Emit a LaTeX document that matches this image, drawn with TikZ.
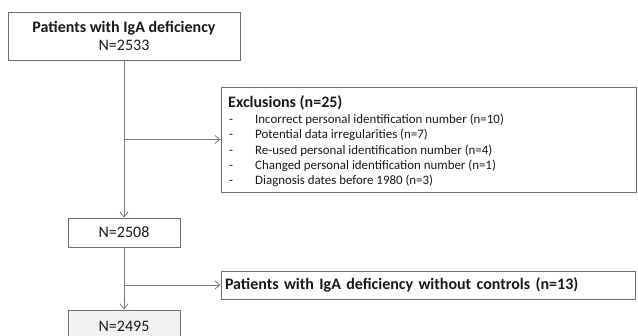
\documentclass[tikz,border=0pt]{standalone}
\usepackage{fontspec}
\setmainfont{Carlito}
\usetikzlibrary{arrows.meta}
\definecolor{boxline}{HTML}{6E6E6E}
\definecolor{conn}{HTML}{7A7A7A}
\definecolor{txt}{HTML}{1A1A1A}
\tikzset{
  fbox/.style={draw=boxline, line width=0.9pt, fill=white, inner sep=0pt, text=txt, align=center},
  conline/.style={draw=conn, line width=0.8pt},
  conarrow/.style={conline, -{Straight Barb[length=5pt,width=8pt,line width=0.8pt]}},
  bigtxt/.style={font=\fontsize{16}{18.5}\selectfont},
  listtxt/.style={font=\fontsize{12.9}{15}\selectfont, text=txt, inner sep=0pt, anchor=base west},
}
\begin{document}
\begin{tikzpicture}[x=1pt,y=-1pt]
\clip (0,0) rectangle (638,336);
\fill[white] (0,0) rectangle (638,336);
% boxes
\node[fbox, bigtxt, minimum width=232pt, minimum height=48pt] (top) at (124,36)
  {\textbf{Patients with IgA deficiency}\\N=2533};
\node[fbox, minimum width=415pt, minimum height=105pt] (excl) at (428.5,139.5) {};
\node[fbox, bigtxt, minimum width=112pt, minimum height=29pt] (n2508) at (124,232.5) {N=2508};
\node[fbox, bigtxt, minimum width=414pt, minimum height=28pt, text width=406pt, align=left] (ctrl) at (428,285)
  {\textbf{Patients with IgA deficiency without controls (n=13)}};
\node[fbox, bigtxt, fill=gray!10, minimum width=112pt, minimum height=32pt] (n2495) at (124,326) {N=2495};
% exclusion texts
\node[listtxt, font=\fontsize{16}{18}\selectfont\bfseries] (ex0) at (228,107.5) {Exclusions (n=25)};
\node[listtxt] (d1) at (229,123.5) {-};
\node[listtxt] (t1) at (255,123.5) {Incorrect personal identification number (n=10)};
\node[listtxt] (d2) at (229,138.8) {-};
\node[listtxt] (t2) at (255,138.8) {Potential data irregularities (n=7)};
\node[listtxt] (d3) at (229,154.1) {-};
\node[listtxt] (t3) at (255,154.1) {Re-used personal identification number (n=4)};
\node[listtxt] (d4) at (229,169.4) {-};
\node[listtxt] (t4) at (255,169.4) {Changed personal identification number (n=1)};
\node[listtxt] (d5) at (229,184.7) {-};
\node[listtxt] (t5) at (255,184.7) {Diagnosis dates before 1980 (n=3)};
% connectors
\coordinate (b1) at (top.south |- excl.west);
\coordinate (b2) at (n2508.south |- ctrl.west);
\draw[conarrow] (top.south) -- (n2508.north);
\draw[conarrow] (b1) -- (excl.west);
\draw[conarrow] (n2508.south) -- (n2495.north);
\draw[conarrow] (b2) -- (ctrl.west);
\end{tikzpicture}
\end{document}
